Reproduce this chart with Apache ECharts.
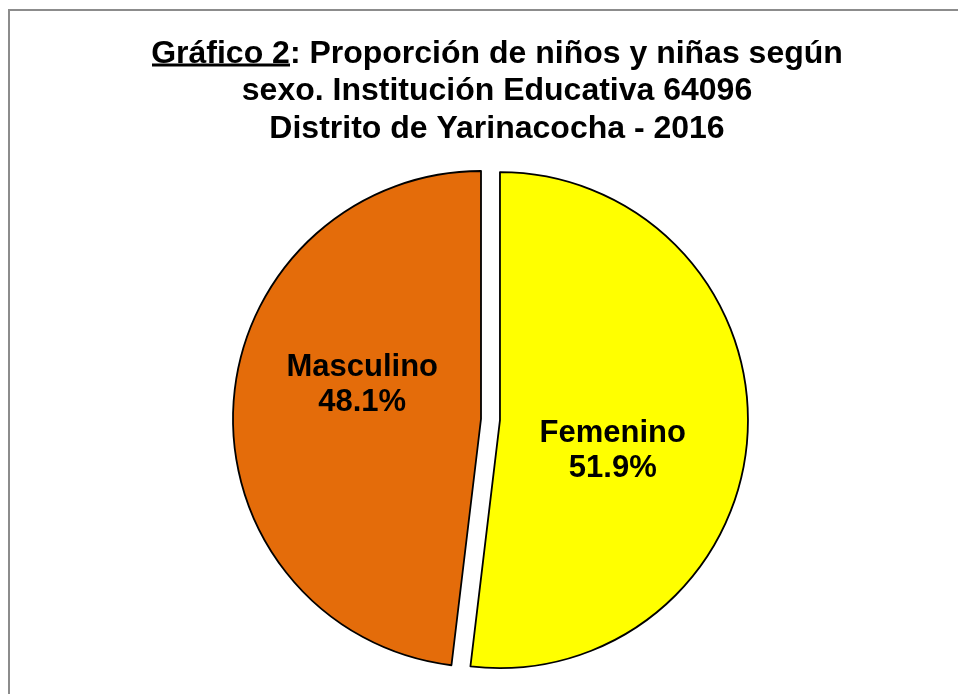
<!DOCTYPE html>
<html>
<head>
<meta charset="utf-8">
<script src="https://cdn.jsdelivr.net/npm/echarts@6/dist/echarts.min.js"></script>
<style>
  html, body { margin: 0; padding: 0; background: #fff; }
  #chart { width: 958px; height: 694px; }
</style>
</head>
<body>
<div id="chart"></div>
<script>
// datos del gráfico
const categorias = ['Femenino', 'Masculino']
const porcentajes = [51.9, 48.1]
const colores = ['#FFFF00', '#E46C0A']

const titulo = ['Gráfico 2: Proporción de niños y niñas según', 'sexo. Institución Educativa 64096', 'Distrito de Yarinacocha - 2016']

let myChart = echarts.init(document.getElementById('chart'))

// desplazamiento de etiquetas (como en Excel)
const labelShift = [[-14, 23], [8, -26]]

let option = {
  backgroundColor: '#fff',
  title: {
    text: titulo.join('\n'),
    left: 492,
    top: 30,
    textAlign: 'center',
    textStyle: {
      fontFamily: 'Liberation Sans, Arial, sans-serif',
      fontWeight: 'bold',
      fontSize: 32,
      lineHeight: 37.5,
      color: '#000'
    }
  },
  graphic: [
    {
      type: 'rect', silent: true, z: 100,
      shape: {x: 9, y: 10, width: 1200, height: 1200},
      style: {fill: 'none', stroke: '#8c8c8c', lineWidth: 2}
    },
    {
      type: 'rect', silent: true, z: 100,
      shape: {x: 152, y: 63.5, width: 138, height: 3},
      style: {fill: '#000'}
    }
  ],
  series: [
    {
      type: 'pie',
      center: [481, 419],
      radius: 248,
      startAngle: 90,
      clockwise: true,
      selectedMode: 'single',
      selectedOffset: 19,
      animation: false,
      itemStyle: {borderColor: '#000', borderWidth: 1.8},
      emphasis: {disabled: true},
      label: {
        show: true,
        position: 'inside',
        fontFamily: 'Liberation Sans, Arial, sans-serif',
        fontWeight: 'bold',
        fontSize: 31,
        lineHeight: 35,
        color: '#000',
        formatter: (p) => p.name + '\n' + p.value.toFixed(1) + '%'
      },
      labelLine: {show: false},
      labelLayout: (p) => ({dx: labelShift[p.dataIndex][0], dy: labelShift[p.dataIndex][1]}),
      data: categorias.map((c, i) => ({
        name: c,
        value: porcentajes[i],
        selected: i === 0,
        itemStyle: {color: colores[i]}
      }))
    }
  ]
}
myChart.setOption(option)
</script>
</body>
</html>
